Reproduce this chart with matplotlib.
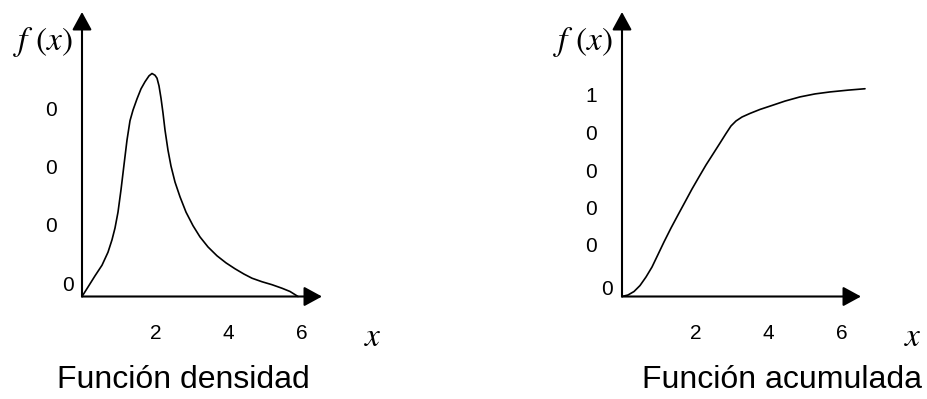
import matplotlib
matplotlib.use('Agg')
import matplotlib.pyplot as plt

# density curve
dens_x = [0, 0.163, 0.354, 0.545, 0.708, 0.817, 0.899, 0.981, 1.063, 1.144, 1.226, 1.308,
          1.390, 1.499, 1.608, 1.717, 1.826, 1.907, 1.989, 2.044, 2.098, 2.153, 2.207, 2.262,
          2.343, 2.425, 2.534, 2.670, 2.834, 3.025, 3.215, 3.433, 3.678, 3.924, 4.169, 4.414,
          4.632, 4.905, 5.177, 5.450, 5.668, 5.886]
dens_y = [0, 0.016, 0.035, 0.053, 0.075, 0.096, 0.116, 0.143, 0.181, 0.223, 0.265, 0.298,
          0.316, 0.335, 0.352, 0.364, 0.374, 0.378, 0.375, 0.370, 0.357, 0.336, 0.311, 0.282,
          0.248, 0.221, 0.194, 0.169, 0.143, 0.120, 0.101, 0.084, 0.069, 0.057, 0.047, 0.038,
          0.031, 0.025, 0.020, 0.014, 0.0085, 0]

# cumulative curve
cum_x = [0, 0.163, 0.327, 0.490, 0.654, 0.817, 0.981, 1.144, 1.335, 1.526, 1.717, 1.907,
         2.098, 2.289, 2.480, 2.670, 2.834, 2.970, 3.106, 3.270, 3.488, 3.760, 4.087, 4.441,
         4.850, 5.259, 5.668, 6.158, 6.621]
cum_y = [0, 0.0075, 0.025, 0.055, 0.098, 0.148, 0.211, 0.274, 0.344, 0.410, 0.475, 0.540,
         0.601, 0.661, 0.716, 0.771, 0.819, 0.857, 0.882, 0.902, 0.920, 0.940, 0.960, 0.982,
         1.003, 1.018, 1.028, 1.037, 1.044]

xticks = [2, 4, 6]
xtick_labels = ['2', '4', '6']
dens_yticks = [0.315, 0.217, 0.118]
dens_ylabels = ['0', '0', '0']
cum_yticks = [1.003, 0.812, 0.621, 0.435, 0.249]
cum_ylabels = ['1', '0', '0', '0', '0']

plt.rcParams['font.family'] = ['Liberation Sans', 'DejaVu Sans']
plt.rcParams['mathtext.fontset'] = 'stix'

W, H = 928, 399
px_per_x = 36.7
fig = plt.figure(figsize=(W / 100, H / 100), dpi=100)


def px_axes(x0, y_top, w, y_bot):
    return fig.add_axes([x0 / W, 1 - y_bot / H, w / W, (y_bot - y_top) / H])


def draw_panel(ax, xs, ys, yscale, yticks, ylabels, x_tip, y_tip, orig_off, title, title_x, fx_x, x_lab_x):
    ax.set_xlim(0, 260 / px_per_x)
    ax.set_ylim(0, 291.5 / yscale)
    ax.axis('off')
    ax.plot(xs, ys, color='black', lw=1.2, clip_on=False,
            solid_capstyle='round', solid_joinstyle='round')
    arr = dict(arrowstyle='-|>,head_length=1.1,head_width=0.6', lw=1.5, color='black',
               mutation_scale=10, shrinkA=0, shrinkB=0)
    ax.annotate('', xy=(x_tip, 0), xytext=(0, 0), arrowprops=arr, annotation_clip=False)
    ax.annotate('', xy=(0, y_tip), xytext=(0, 0), arrowprops=arr, annotation_clip=False)
    for v, lab in zip(xticks, xtick_labels):
        ax.annotate(lab, xy=(v, 0), xytext=(0, -26.5), textcoords='offset points',
                    ha='center', va='center', fontsize=15, annotation_clip=False)
    for v, lab in zip(yticks, ylabels):
        ax.annotate(lab, xy=(0, v), xytext=(-22.5, 0), textcoords='offset points',
                    ha='center', va='center', fontsize=15, annotation_clip=False)
    ax.annotate('0', xy=(0, 0), xytext=orig_off, textcoords='offset points',
                ha='center', va='center', fontsize=15, annotation_clip=False)
    fig.text(fx_x / W, 1 - 42 / H, r'$f\,\,(x)$', fontsize=24, ha='center', va='center')
    fig.text(x_lab_x / W, 1 - 337 / H, r'$x$', fontsize=24, ha='center', va='center')
    fig.text(title_x / W, 1 - 380 / H, title, fontsize=23, ha='center', va='center')


ax1 = px_axes(82, 5, 260, 296.5)
draw_panel(ax1, dens_x, dens_y, 590, dens_yticks, dens_ylabels,
           (322 - 82) / px_per_x, 284.5 / 590, (-10, 8), 'Función densidad', 183, 43, 373)

ax2 = px_axes(622, 5, 260, 296.5)
draw_panel(ax2, cum_x, cum_y, 199, cum_yticks, cum_ylabels,
           (861 - 622) / px_per_x, 284.5 / 199, (-11, 5), 'Función acumulada', 782, 583, 913)

fig.savefig('out.png', dpi=100)
